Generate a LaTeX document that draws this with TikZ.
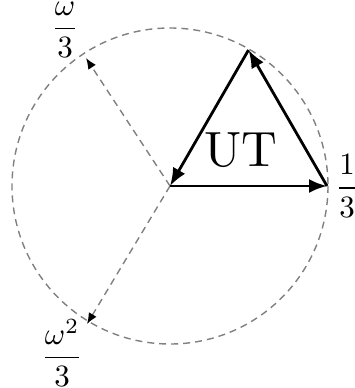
\documentclass[tikz,border=0pt]{standalone}
\usepackage{graphicx}
\usetikzlibrary{arrows.meta}
\begin{document}
\begin{tikzpicture}[x=1pt,y=-1pt,
  circ/.style={draw=gray, dashed, dash pattern=on 7pt off 5pt, line width=1.4pt},
  tri/.style={draw=black, line width=2.8pt, -{Latex[length=18pt,width=14pt]}},
  dar/.style={draw=gray, dashed, dash pattern=on 7pt off 5pt, line width=1.4pt, -{Latex[length=11pt,width=9pt,fill=black,color=black]}},
  lab/.style={inner sep=0pt}]
\useasboundingbox (0,0) rectangle (354,388);
\coordinate (O) at (170,186);
\coordinate (A) at (327,186);
\coordinate (T) at (248.5,50);
\coordinate (P1) at (86,58);
\coordinate (P2) at (87,324);
\draw[circ] (O) circle (158);
\draw[dar] (O) -- (P1);
\draw[dar] (O) -- (P2);
\draw[tri] (O) -- (A);
\draw[tri] (A) -- (T);
\draw[tri] (T) -- (O);
\node[inner sep=0pt] (ut) at (241,150) {\scalebox{4.95}{UT}};
\node[lab] (l1) at (65,29.5) {\scalebox{3.1}{$\displaystyle\frac{\omega}{3}$}};
\node[lab] (l2) at (347,186) {\scalebox{3.1}{$\displaystyle\frac{1}{3}$}};
\node[lab] (l3) at (62,353) {\scalebox{3.1}{$\displaystyle\frac{\omega^2}{3}$}};
\end{tikzpicture}
\end{document}
